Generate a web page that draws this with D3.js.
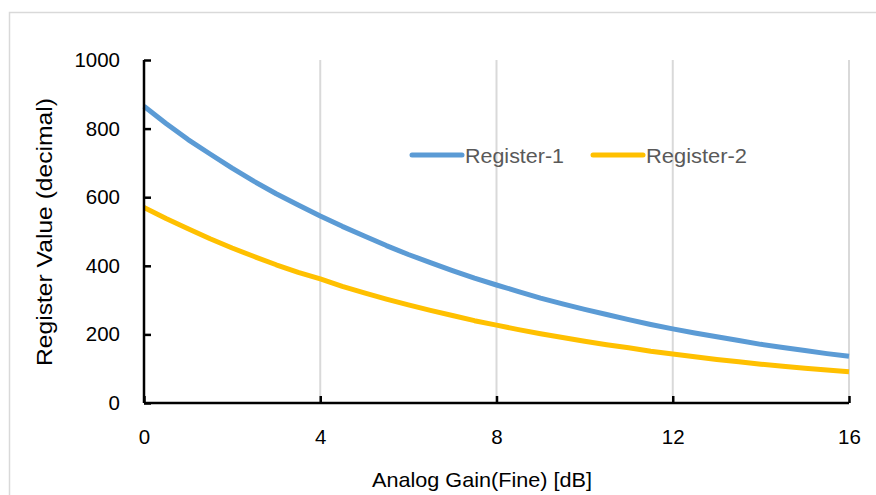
<!DOCTYPE html>
<html>
<head>
<meta charset="utf-8">
<script src="https://cdn.jsdelivr.net/npm/d3@7"></script>
<style>
  html, body { margin: 0; padding: 0; background: #fff; }
  svg { display: block; font-family: "Liberation Sans", Arial, sans-serif; }
</style>
</head>
<body>
<svg id="chart" width="876" height="495"></svg>
<script>
// ---- data ----
const gainDb = [0,0.5,1,1.5,2,2.5,3,3.5,4,4.5,5,5.5,6,6.5,7,7.5,8,8.5,9,9.5,10,10.5,11,11.5,12,12.5,13,13.5,14,14.5,15,15.5,16];
const register1 = [865,815,768,726,685,646,610,577,545,515,487,459,433,409,386,364,344,325,306,289,273,258,243,229,216,204,193,182,171,162,153,144,136];
const register2 = [570,538,508,479,452,427,403,381,362,340,321,303,286,270,255,240,227,214,202,191,180,170,161,151,143,135,127,120,113,107,101,96,91];
const seriesNames = ["Register-1", "Register-2"];
const seriesColors = ["#5B9BD5", "#FFC000"];
const xTicks = [0, 4, 8, 12, 16];
const yTicks = [0, 200, 400, 600, 800, 1000];
const xTitle = "Analog Gain(Fine) [dB]";
const yTitle = "Register Value (decimal)";

const svg = d3.select("#chart");
const W = 876, H = 495;
const plot = { left: 144, right: 849, top: 60, bottom: 403 };

svg.append("rect").attr("width", W).attr("height", H).attr("fill", "#fff");
// outer chart frame
svg.append("rect")
  .attr("x", 9.5).attr("y", 12.5).attr("width", 900).attr("height", 520)
  .attr("fill", "none").attr("stroke", "#d9d9d9").attr("stroke-width", 1.5);

const x = d3.scaleLinear().domain([0, 16]).range([plot.left, plot.right]);
const y = d3.scaleLinear().domain([0, 1000]).range([plot.bottom, plot.top]);

// vertical gridlines
svg.append("g").selectAll("line")
  .data(xTicks.filter(d => d > 0))
  .join("line")
  .attr("x1", d => x(d)).attr("x2", d => x(d))
  .attr("y1", plot.top).attr("y2", plot.bottom)
  .attr("stroke", "#d9d9d9").attr("stroke-width", 2);

// series lines
const series = [register1, register2];
const line = d3.line().x((d, i) => x(gainDb[i])).y(d => y(d));
series.forEach((vals, k) => {
  svg.append("path")
    .datum(vals)
    .attr("d", line)
    .attr("fill", "none")
    .attr("stroke", seriesColors[k])
    .attr("stroke-width", 5)
    .attr("stroke-linejoin", "round")
    .attr("stroke-linecap", "butt");
});

// axes
const xAxis = d3.axisBottom(x).tickValues(xTicks).tickSize(-7).tickPadding(26).tickFormat(d3.format("d"));
const yAxis = d3.axisLeft(y).tickValues(yTicks).tickSize(-7).tickPadding(24).tickFormat(d3.format("d"));

const gx = svg.append("g").attr("transform", `translate(0,${plot.bottom})`).call(xAxis);
const gy = svg.append("g").attr("transform", `translate(${plot.left},0)`).call(yAxis);
[gx, gy].forEach(g => {
  g.select(".domain").attr("stroke", "#000").attr("stroke-width", 2.5);
  g.selectAll(".tick line").attr("stroke", "#000").attr("stroke-width", 2.5);
  g.selectAll(".tick text").attr("fill", "#000").style("font-size", "20.5px").style("font-family", "Liberation Sans, Arial, sans-serif");
});
gx.select(".domain").attr("d", `M${plot.left},0H${plot.right}`);
gy.select(".domain").attr("d", `M0,${plot.bottom}V${plot.top}`);

// axis titles
svg.append("text")
  .attr("x", 482).attr("y", 487)
  .attr("text-anchor", "middle").attr("fill", "#000")
  .attr("textLength", 220).attr("lengthAdjust", "spacingAndGlyphs")
  .style("font-size", "21px").text(xTitle);
svg.append("text")
  .attr("transform", `translate(52,232) rotate(-90)`)
  .attr("text-anchor", "middle").attr("fill", "#000")
  .attr("textLength", 268).attr("lengthAdjust", "spacingAndGlyphs")
  .style("font-size", "22px").text(yTitle);

// legend
const legendX = [412, 593];
const legendTextLen = [99, 101];
seriesNames.forEach((name, k) => {
  svg.append("line")
    .attr("x1", legendX[k]).attr("x2", legendX[k] + 50)
    .attr("y1", 155).attr("y2", 155)
    .attr("stroke", seriesColors[k]).attr("stroke-width", 5)
    .attr("stroke-linecap", "round");
  svg.append("text")
    .attr("x", legendX[k] + 53).attr("y", 163)
    .attr("fill", "#595959").style("font-size", "21px")
    .attr("textLength", legendTextLen[k]).attr("lengthAdjust", "spacingAndGlyphs")
    .text(name);
});
</script>
</body>
</html>
